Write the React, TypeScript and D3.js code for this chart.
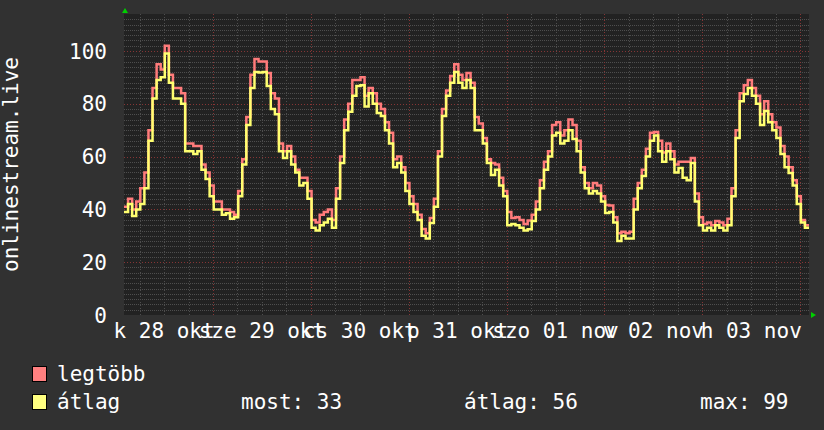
import React from 'react';
import * as d3 from 'd3';

// hourly samples starting 2025-10-28 02:10 (UTC used as local clock)
const avgValues: number[] = [
  39, 42, 37.5, 40, 42, 48, 66, 82, 89, 90,
  99, 88, 82, 82, 80, 62, 62, 61, 62, 55,
  51.5, 45, 40, 40, 38, 38.5, 36.5, 37, 45, 57,
  72, 86, 92, 91.8, 92, 86.7, 78, 76, 62, 59.5,
  62, 57, 54, 49, 50, 44, 33, 32, 34, 35,
  36.5, 33, 44, 57.6, 70, 77, 83, 86.7, 87, 79,
  84, 80, 76.5, 75.4, 70, 65, 56, 57.6, 54, 47,
  42, 39, 36, 30, 29, 34.8, 41, 60, 75.4, 83,
  88, 92, 88, 86, 89, 86, 70, 70, 65, 57.6,
  53, 55, 49, 45, 34, 34.5, 34, 33, 32, 32.5,
  35.6, 40, 48, 55, 60, 68, 69, 65, 66, 70,
  66.7, 62, 54, 48, 46, 47, 46, 43, 38.6, 39,
  35, 28, 30, 29, 29, 40, 48, 52.6, 60, 66,
  68, 62, 58, 62, 59, 54, 55.7, 52, 51, 57.6,
  43, 34, 32, 33, 32, 34, 33, 32, 34, 45,
  67, 81, 83.7, 86, 83, 80, 72, 77.3, 73, 70,
  67, 61, 56, 53.8, 49, 42, 35, 33,
];

const maxValues: number[] = [
  41, 44, 40, 43, 48, 54, 70, 86, 95, 93,
  102, 91, 86, 86, 84, 65, 65, 64, 64, 57,
  54, 49, 43, 43, 40, 40, 39, 38, 47, 59,
  75, 91, 97, 96, 96, 91.7, 84, 82, 65, 62,
  64, 60, 55, 52, 52, 47, 36, 35, 38, 39,
  40, 36, 48, 60, 74, 80, 89, 89, 90, 83,
  86, 84, 80, 78, 73, 69, 59, 60, 56, 50,
  45, 42, 38, 32.6, 31, 36.7, 44, 62, 78, 85,
  90.5, 95, 91, 89, 91.7, 88, 75, 72.5, 67, 59,
  57.6, 57, 52, 47, 39, 36.7, 37, 36, 34.5, 35.8,
  38, 43, 51, 58, 62, 72, 73, 68, 70, 74,
  72, 66, 56, 50, 48, 50, 49, 45, 41.7, 41.5,
  37, 31, 31.5, 31, 31.5, 44, 50, 55, 63, 69,
  69.3, 66, 61.5, 65, 62, 57, 58, 58, 58, 59.5,
  46, 37, 34.5, 35, 34, 35.6, 35, 34, 36.5, 48,
  70, 84, 87, 89, 86, 83, 76, 81, 76, 73,
  71, 64, 60, 56, 51, 45, 36, 34,
];

const dayLabels: string[] = ['k 28 okt', 'sze 29 okt', 'cs 30 okt', 'p 31 okt', 'szo 01 nov', 'v 02 nov', 'h 03 nov'];
const yTickValues: number[] = [0, 20, 40, 60, 80, 100];
const seriesNames: string[] = ['legtöbb', 'átlag'];
const statLabels: string[] = ['most: 33', 'átlag: 56', 'max: 99'];
const yTitle = 'onlinestream.live';

const FONT = '"DejaVu Sans Mono", monospace';

export default function App() {
  const W = 824, H = 430;
  const left = 124, right = 809, top = 14, bottom = 315;
  const start = new Date(Date.UTC(2025, 9, 28, 2, 10));
  const end = d3.utcHour.offset(start, 168);
  const x = d3.scaleUtc().domain([start, end]).range([left, right]);
  const y = d3.scaleLinear().domain([0, 114]).range([bottom, top]);

  const toPts = (vals: number[]) => {
    const pts: [Date, number][] = vals.map((v, i) => [d3.utcHour.offset(start, i), v]);
    pts.push([end, vals[vals.length - 1]]);
    return pts;
  };
  const line = d3.line<[Date, number]>()
    .x(d => x(d[0]))
    .y(d => y(d[1]))
    .curve(d3.curveStepAfter);

  const minorH = d3.range(2, 114, 2).filter(v => v % 20 !== 0);
  const majorH = d3.range(20, 114, 20);
  const sixH = d3.utcHour.every(6)!.range(start, end).filter(d => d.getUTCHours() !== 0);
  const days = d3.utcDay.range(start, end);
  const noonBase = d3.utcHour.offset(d3.utcDay.floor(start), 12);
  const noons = dayLabels.map((_, i) => d3.utcDay.offset(noonBase, i));

  const minorColor = '#4e4e4e';
  const majorColor = '#853535';

  return (
    <svg width={W} height={H} style={{ position: 'absolute', left: 0, top: 0, display: 'block' }}>
      <defs>
        <clipPath id="plotclip">
          <rect x={left} y={top} width={right - left} height={bottom - top} />
        </clipPath>
      </defs>
      <rect x={0} y={0} width={W} height={H} fill="#313131" />
      <rect x={left} y={top} width={right - left} height={bottom - top} fill="#222222" />

      {minorH.map(v => (
        <line key={'mh' + v} x1={left} x2={right} y1={Math.round(y(v)) + 0.5} y2={Math.round(y(v)) + 0.5}
          stroke={minorColor} strokeWidth={1} strokeDasharray="1,1" />
      ))}
      {sixH.map(d => (
        <line key={'mv' + d.getTime()} x1={Math.round(x(d)) + 0.5} x2={Math.round(x(d)) + 0.5} y1={top} y2={bottom}
          stroke={minorColor} strokeWidth={1} strokeDasharray="1,2" />
      ))}
      {majorH.map(v => (
        <line key={'jh' + v} x1={left} x2={right} y1={Math.round(y(v)) + 0.5} y2={Math.round(y(v)) + 0.5}
          stroke={majorColor} strokeWidth={1} strokeDasharray="1,2" />
      ))}
      {days.map(d => (
        <line key={'jv' + d.getTime()} x1={Math.round(x(d)) + 0.5} x2={Math.round(x(d)) + 0.5} y1={top} y2={bottom}
          stroke={majorColor} strokeWidth={1} strokeDasharray="1,2" />
      ))}

      <g clipPath="url(#plotclip)">
        <path d={line(toPts(maxValues)) || ''} fill="none" stroke="#ff7b7b" strokeWidth={2.5} />
        <path d={line(toPts(avgValues)) || ''} fill="none" stroke="#ffff70" strokeWidth={2.5} />
      </g>

      {/* arrows */}
      <path d={`M${left - 2},${top - 1}L${left + 1},${top - 6}L${left + 4},${top - 1}Z`} fill="#00d000" />
      <path d={`M${right + 2},${bottom - 3}L${right + 7},${bottom}L${right + 2},${bottom + 3}Z`} fill="#00d000" />

      {yTickValues.map(v => (
        <text key={'yt' + v} x={107} y={y(v)} dy="0.36em" textAnchor="end"
          fill="#ffffff" fontFamily={FONT} fontSize={21}>{v}</text>
      ))}
      {noons.map((d, i) => (
        <text key={'xl' + i} x={x(d)} y={338} textAnchor="middle"
          fill="#ffffff" fontFamily={FONT} fontSize={21}>{dayLabels[i]}</text>
      ))}
      <text transform={`translate(18,${(top + bottom) / 2}) rotate(-90)`} textAnchor="middle"
        fill="#ffffff" fontFamily={FONT} fontSize={21}>{yTitle}</text>

      {/* legend */}
      <rect x={32.5} y={366.5} width={14} height={15} fill="#ff8080" stroke="#000" strokeWidth={1} />
      <rect x={32.5} y={394.5} width={14} height={15} fill="#ffff80" stroke="#000" strokeWidth={1} />
      <text x={57} y={381} fill="#ffffff" fontFamily={FONT} fontSize={21}>{seriesNames[0]}</text>
      <text x={57} y={409} fill="#ffffff" fontFamily={FONT} fontSize={21}>{seriesNames[1]}</text>
      <text x={241} y={409} fill="#ffffff" fontFamily={FONT} fontSize={21}>{statLabels[0]}</text>
      <text x={464} y={409} fill="#ffffff" fontFamily={FONT} fontSize={21}>{statLabels[1]}</text>
      <text x={700} y={409} fill="#ffffff" fontFamily={FONT} fontSize={21}>{statLabels[2]}</text>
    </svg>
  );
}
